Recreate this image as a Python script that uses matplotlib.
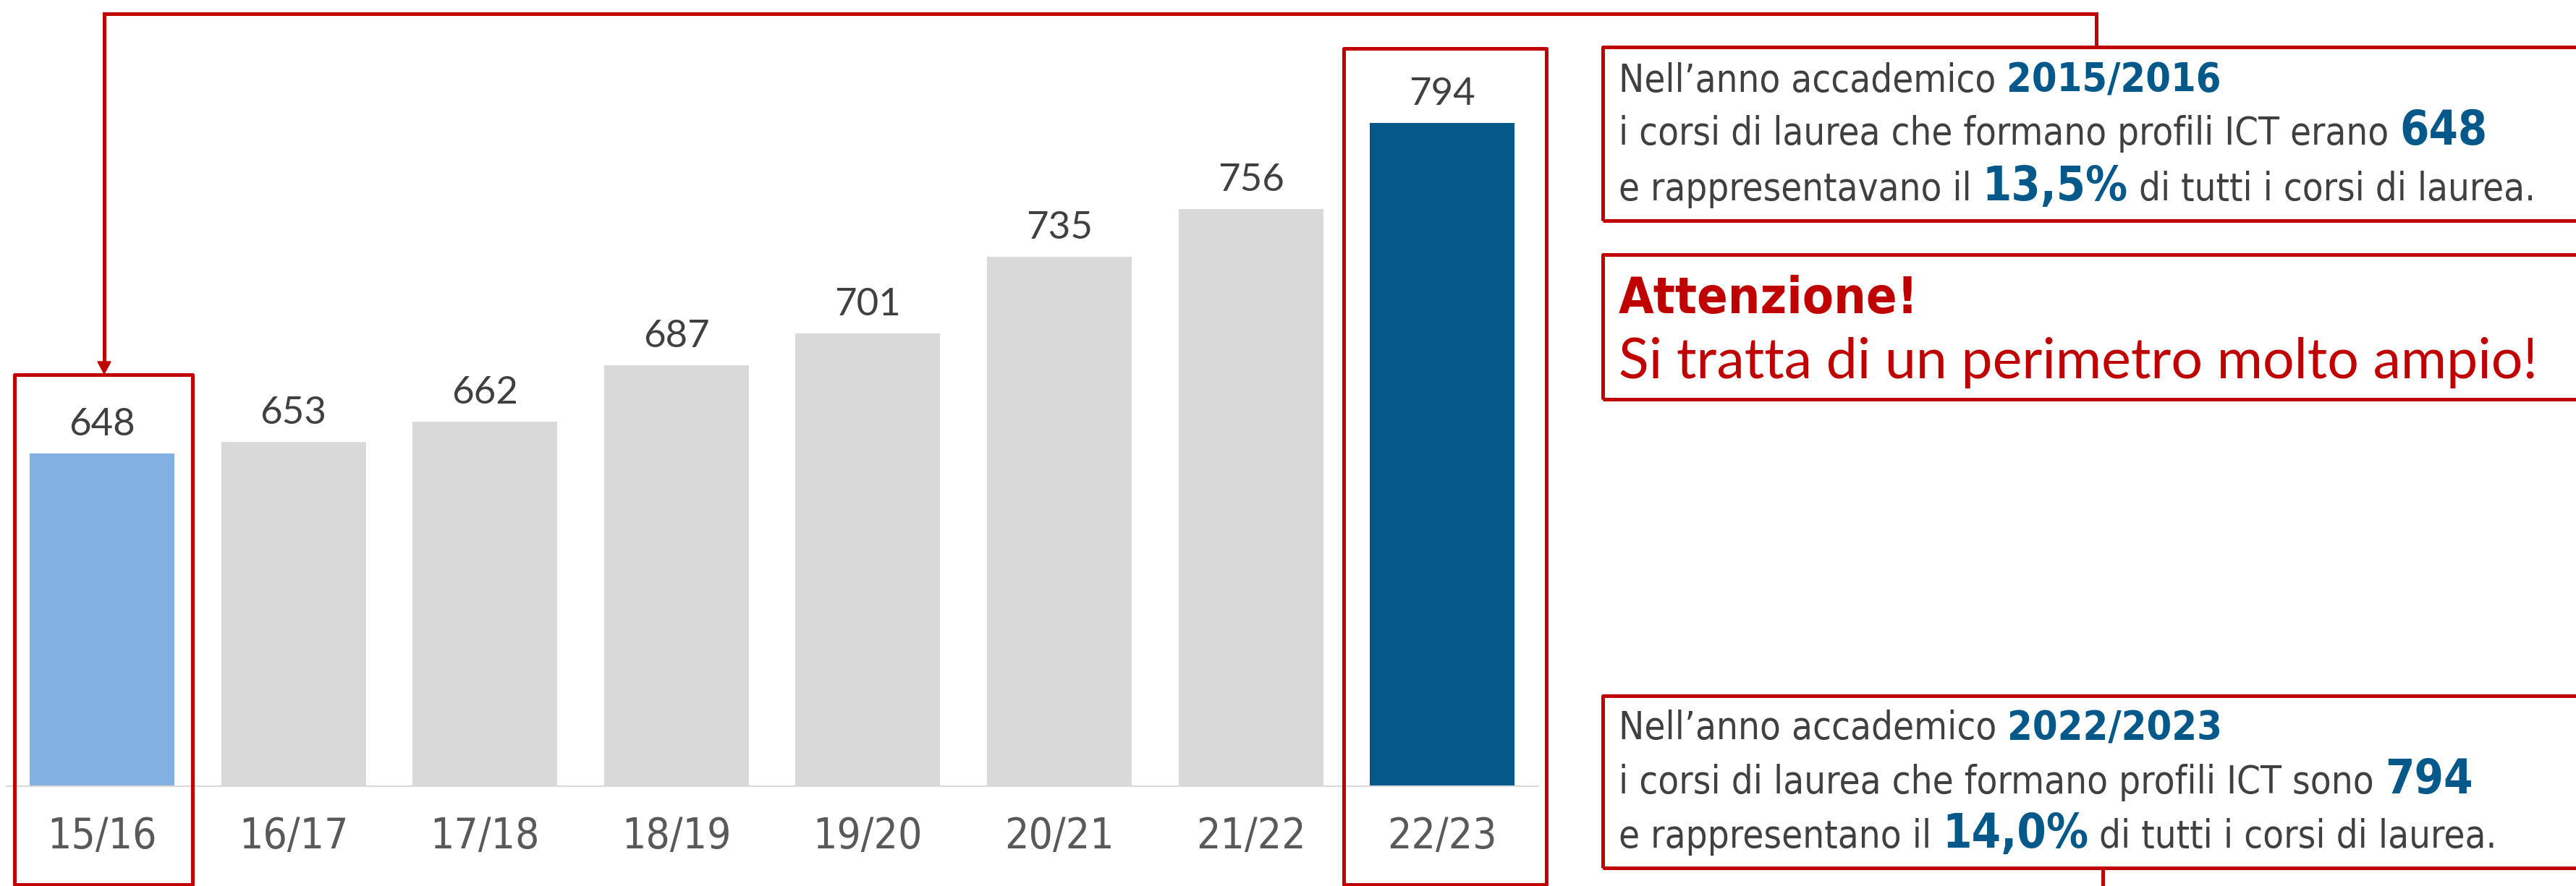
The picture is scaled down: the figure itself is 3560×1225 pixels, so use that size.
import matplotlib
matplotlib.use('Agg')
import matplotlib.pyplot as plt
from matplotlib import font_manager as fm
from matplotlib.patches import Rectangle, Polygon
from matplotlib.lines import Line2D

# data
years = ['15/16', '16/17', '17/18', '18/19', '19/20', '20/21', '21/22', '22/23']
corsi = [648, 653, 662, 687, 701, 735, 756, 794]
bar_colors = ['#83B0E3'] + ['#D9D9D9'] * 6 + ['#04598A']

box1_lines = [
    [('Nell’anno accademico ', 'r'), ('2015/2016', 'b')],
    [('i corsi di laurea che formano profili ICT erano ', 'r'), ('648', 'B')],
    [('e rappresentavano il ', 'r'), ('13,5%', 'B'), (' di tutti i corsi di laurea.', 'r')],
]
box3_lines = [
    [('Nell’anno accademico ', 'r'), ('2022/2023', 'b')],
    [('i corsi di laurea che formano profili ICT sono ', 'r'), ('794', 'B')],
    [('e rappresentano il ', 'r'), ('14,0%', 'B'), (' di tutti i corsi di laurea.', 'r')],
]
warn_title = 'Attenzione!'
warn_text = 'Si tratta di un perimetro molto ampio!'

RED = '#C00000'
BLUE = '#04598A'
DARK = '#404040'
GREY = '#595959'

# fonts
fonts = fm.fontManager.ttflist
names = {f.name for f in fonts}
if 'Liberation Sans Narrow' in names:
    narrow = {'family': 'Liberation Sans Narrow'}
elif any(f.name == 'DejaVu Sans' and f.stretch == 'condensed' for f in fonts):
    narrow = {'family': 'DejaVu Sans', 'stretch': 'condensed'}
else:
    narrow = {'family': 'Roboto'}
wide = {'family': 'Lato' if 'Lato' in names else 'DejaVu Sans'}

W, H = 3560, 1225
fig = plt.figure(figsize=(W / 100, H / 100), dpi=100)
R = fig.canvas.get_renderer()

# bar chart
ax = fig.add_axes([8.7 / W, (H - 1087) / H, (2125.5 - 8.7) / W, 1087 / H])
x = range(len(years))
ax.bar(x, corsi, width=0.756, color=bar_colors)
ax.set_xlim(-0.5, 7.5)
ax.set_ylim(501, 501 + 1087 / 3.13)
for i, v in enumerate(corsi):
    ax.annotate(str(v), (i, v), xytext=(0, 18), textcoords='offset points',
                ha='center', va='baseline', fontsize=38, color=DARK, **wide)
for s in ['top', 'left', 'right']:
    ax.spines[s].set_visible(False)
ax.spines['bottom'].set_color('#D9D9D9')
ax.spines['bottom'].set_linewidth(1.5)
ax.set_yticks([])
ax.set_xticks(list(x))
ax.set_xticklabels(years, fontsize=42, color=GREY, **narrow)
ax.tick_params(axis='x', length=0, pad=62)
plt.setp(ax.get_xticklabels(), va='baseline')


def fx(px):
    return px / W


def fy(py):
    return 1 - py / H


def rect(l, t, r, b, lw=3.6):
    fig.add_artist(Rectangle((fx(l), fy(b)), (r - l) / W, (b - t) / H,
                             transform=fig.transFigure, fill=False,
                             edgecolor=RED, linewidth=lw, joinstyle='round'))


def polyline(pts, lw=3.6):
    fig.add_artist(Line2D([fx(p[0]) for p in pts], [fy(p[1]) for p in pts],
                          transform=fig.transFigure, color=RED, linewidth=lw,
                          solid_joinstyle='miter', solid_capstyle='butt'))


# boxes around first and last bar
rect(20, 518, 266, 1223)
rect(1857, 67, 2137, 1223)

# text boxes
rect(2215, 65, 3600, 305)
rect(2215, 352, 3600, 552)
rect(2215, 962, 3600, 1200)

# connectors
polyline([(144, 502), (144, 19), (2897, 19), (2897, 65)])
fig.add_artist(Polygon([(fx(135), fy(500)), (fx(153), fy(500)), (fx(144), fy(517))],
                       closed=True, transform=fig.transFigure, color=RED))
polyline([(2906, 1200), (2906, 1230)])


# text runs
styles = {
    'r': (35, 'normal', DARK, narrow),
    'b': (37, 'bold', BLUE, narrow),
    'B': (43, 'bold', BLUE, narrow),
}


def advance(s, size, weight, font):
    t = fig.text(0, 0, s + '|', fontsize=size, fontweight=weight, **font)
    w1 = t.get_window_extent(R).width
    t.set_text('|')
    w2 = t.get_window_extent(R).width
    t.remove()
    return w1 - w2


def line_width(parts, scale=1.0):
    tot = 0
    for s, k in parts:
        size, weight, color, font = styles[k]
        tot += advance(s, size * scale, weight, font)
    return tot


def draw_line(x0, y0, parts, scale):
    for s, k in parts:
        size, weight, color, font = styles[k]
        fig.text(fx(x0), fy(y0), s, fontsize=size * scale, fontweight=weight,
                 color=color, va='baseline', ha='left', **font)
        x0 += advance(s, size * scale, weight, font)


sc1 = 1268 / line_width(box1_lines[2])
for parts, yb in zip(box1_lines, [127, 200, 277]):
    draw_line(2237, yb, parts, sc1)

sc3 = 1215 / line_width(box3_lines[2])
for parts, yb in zip(box3_lines, [1022, 1097, 1172]):
    draw_line(2237, yb, parts, sc3)

wt = 53 * 414 / advance(warn_title, 53, 'bold', narrow)
fig.text(fx(2237), fy(433), warn_title, fontsize=wt, fontweight='bold',
         color=RED, va='baseline', ha='left', **narrow)
ws = 53 * 1272 / advance(warn_text, 53, 'normal', wide)
fig.text(fx(2237), fy(523), warn_text, fontsize=ws, color=RED,
         va='baseline', ha='left', **wide)

fig.savefig('out.png', dpi=100)
